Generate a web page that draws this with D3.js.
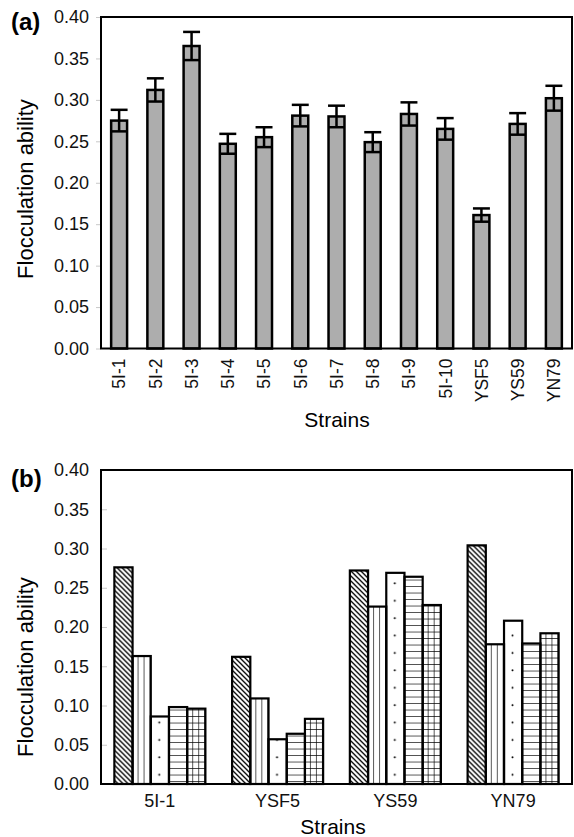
<!DOCTYPE html>
<meta charset="utf-8">
<script src="https://d3js.org/d3.v7.min.js"></script>
<style>
  body { margin: 0; background: #fff; }
  text { font-family: "Liberation Sans", Arial, sans-serif; }
</style>
<div id="chart"></div>
<script>
// ---- data ----
var strains = ["5I-1", "5I-2", "5I-3", "5I-4", "5I-5", "5I-6", "5I-7", "5I-8", "5I-9", "5I-10", "YSF5", "YS59", "YN79"];
var ability = [0.275, 0.312, 0.365, 0.247, 0.255, 0.281, 0.280, 0.249, 0.283, 0.265, 0.161, 0.271, 0.302];
var abilityErr = [0.013, 0.014, 0.017, 0.012, 0.012, 0.013, 0.013, 0.012, 0.014, 0.013, 0.008, 0.013, 0.015];

var groupStrains = ["5I-1", "YSF5", "YS59", "YN79"];
var cond1 = [0.276, 0.162, 0.272, 0.304];
var cond2 = [0.163, 0.109, 0.226, 0.178];
var cond3 = [0.086, 0.057, 0.269, 0.208];
var cond4 = [0.098, 0.064, 0.264, 0.179];
var cond5 = [0.096, 0.083, 0.228, 0.192];
var conds = ["c1", "c2", "c3", "c4", "c5"];

var yTicks = [0, 0.05, 0.10, 0.15, 0.20, 0.25, 0.30, 0.35, 0.40];

var W = 574, H = 837;
var svg = d3.select("#chart").append("svg")
  .attr("width", W)
  .attr("height", H);

var defs = svg.append("defs");

// fill patterns for panel (b)
var p1 = defs.append("pattern").attr("id", "pat-c1")
  .attr("patternUnits", "userSpaceOnUse").attr("width", 5).attr("height", 5);
p1.append("path").attr("d", "M-1,-1 L6,6 M-1,4 L1,6 M4,-1 L6,1")
  .attr("stroke", "#000").attr("stroke-width", 1.3);

var p2 = defs.append("pattern").attr("id", "pat-c2")
  .attr("patternUnits", "userSpaceOnUse").attr("width", 6).attr("height", 6);
p2.append("path").attr("d", "M6,0 V6").attr("stroke", "#000").attr("stroke-width", 1.3);

var p3 = defs.append("pattern").attr("id", "pat-c3")
  .attr("patternUnits", "userSpaceOnUse").attr("width", 30).attr("height", 17.4);
p3.append("circle").attr("cx", 8.5).attr("cy", 9).attr("r", 1).attr("fill", "#000");

var p4 = defs.append("pattern").attr("id", "pat-c4")
  .attr("patternUnits", "userSpaceOnUse").attr("width", 6).attr("height", 6.5);
p4.append("path").attr("d", "M0,6.5 H6").attr("stroke", "#000").attr("stroke-width", 1.3);

var p5 = defs.append("pattern").attr("id", "pat-c5")
  .attr("patternUnits", "userSpaceOnUse").attr("width", 6).attr("height", 6.5);
p5.append("path").attr("d", "M0,6.5 H6 M6,0 V6.5").attr("stroke", "#000").attr("stroke-width", 1.3);

function yAxis(g, y, inner) {
  g.call(d3.axisLeft(y)
      .tickValues(yTicks)
      .tickFormat(d3.format(".2f"))
      .tickSize(inner ? -6 : 5)
      .tickPadding(inner ? 12 : 7))
    .attr("font-size", 18)
    .attr("font-family", null);
  g.select(".domain").remove();
  g.selectAll(".tick line").attr("stroke", "#c8c8c8").attr("stroke-width", 1);
  g.selectAll(".tick text").attr("fill", "#111");
}

// ================= panel (a) =================
var ma = {left: 101, top: 17, right: 572, bottom: 348.5};
var wa = ma.right - ma.left, ha = ma.bottom - ma.top;
var ga = svg.append("g").attr("transform", "translate(" + ma.left + "," + ma.top + ")");

var xa = d3.scaleBand().domain(strains).range([0, wa]).paddingInner(0.56).paddingOuter(0.28);
var ya = d3.scaleLinear().domain([0, 0.40]).range([ha, 0]);

ga.append("g").call(yAxis, ya, false);

var rowsA = strains.map(function(s, i) { return {strain: s, v: ability[i], e: abilityErr[i]}; });

ga.selectAll(".bar").data(rowsA).enter().append("rect")
  .attr("class", "bar")
  .attr("x", function(d) { return xa(d.strain); })
  .attr("y", function(d) { return ya(d.v); })
  .attr("width", xa.bandwidth())
  .attr("height", function(d) { return ha - ya(d.v); })
  .attr("fill", "#adadad")
  .attr("stroke", "#000")
  .attr("stroke-width", 2.5);

// error bars
var eb = ga.selectAll(".err").data(rowsA).enter().append("g").attr("class", "err")
  .attr("transform", function(d) { return "translate(" + (xa(d.strain) + xa.bandwidth() / 2) + ",0)"; })
  .attr("stroke", "#000").attr("stroke-width", 2.5);
eb.append("line")
  .attr("y1", function(d) { return ya(d.v - d.e); })
  .attr("y2", function(d) { return ya(d.v + d.e); });
eb.append("line")
  .attr("x1", -xa.bandwidth() / 2 - 0.5).attr("x2", xa.bandwidth() / 2 + 0.5)
  .attr("y1", function(d) { return ya(d.v + d.e); })
  .attr("y2", function(d) { return ya(d.v + d.e); });
eb.append("line")
  .attr("x1", -xa.bandwidth() / 2).attr("x2", xa.bandwidth() / 2)
  .attr("y1", function(d) { return ya(d.v - d.e); })
  .attr("y2", function(d) { return ya(d.v - d.e); });

// x axis labels (rotated)
var xaG = ga.append("g").attr("transform", "translate(0," + ha + ")")
  .call(d3.axisBottom(xa).tickSize(0))
  .attr("font-size", 17.5)
  .attr("font-family", null);
xaG.select(".domain").remove();
xaG.selectAll(".tick text")
  .attr("fill", "#111")
  .attr("transform", "rotate(-90)")
  .attr("x", -10)
  .attr("y", 0)
  .attr("dy", "0.36em")
  .style("text-anchor", "end");

// frame
ga.append("rect").attr("width", wa).attr("height", ha)
  .attr("fill", "none").attr("stroke", "#000").attr("stroke-width", 2);

svg.append("text").attr("x", 337).attr("y", 427).attr("text-anchor", "middle")
  .style("font-size", "21px").text("Strains");
svg.append("text").attr("transform", "translate(33,189) rotate(-90)").attr("text-anchor", "middle")
  .style("font-size", "22px").text("Flocculation ability");
svg.append("text").attr("x", 11).attr("y", 30)
  .style("font-size", "24px").style("font-weight", "bold").text("(a)");

// ================= panel (b) =================
var mb = {left: 101, top: 470, right: 572, bottom: 784};
var wb = mb.right - mb.left, hb = mb.bottom - mb.top;
var gb = svg.append("g").attr("transform", "translate(" + mb.left + "," + mb.top + ")");

var xb = d3.scaleBand().domain(groupStrains).range([0, wb]).paddingInner(0.227).paddingOuter(0.1135);
var xs = d3.scaleBand().domain(conds).range([0, xb.bandwidth()]);
var yb = d3.scaleLinear().domain([0, 0.40]).range([hb, 0]);

gb.append("g").call(yAxis, yb, true);

var seriesVals = {c1: cond1, c2: cond2, c3: cond3, c4: cond4, c5: cond5};
var rowsB = [];
groupStrains.forEach(function(s, i) {
  conds.forEach(function(c) { rowsB.push({strain: s, cond: c, v: seriesVals[c][i]}); });
});

var bb = gb.selectAll(".bbar").data(rowsB).enter().append("g").attr("class", "bbar")
  .attr("transform", function(d) { return "translate(" + (xb(d.strain) + xs(d.cond)) + ",0)"; });
bb.append("rect")
  .attr("x", 0)
  .attr("y", function(d) { return yb(d.v); })
  .attr("width", xs.bandwidth())
  .attr("height", function(d) { return hb - yb(d.v); })
  .attr("fill", function(d) { return "url(#pat-" + d.cond + ")"; })
  .attr("stroke", "#000")
  .attr("stroke-width", 2.2);

var xbG = gb.append("g").attr("transform", "translate(0," + hb + ")")
  .call(d3.axisBottom(xb).tickSize(0).tickPadding(10))
  .attr("font-size", 18)
  .attr("font-family", null);
xbG.select(".domain").remove();
xbG.selectAll(".tick text").attr("fill", "#111");

gb.append("rect").attr("width", wb).attr("height", hb)
  .attr("fill", "none").attr("stroke", "#000").attr("stroke-width", 2);

svg.append("text").attr("x", 333).attr("y", 834).attr("text-anchor", "middle")
  .style("font-size", "21px").text("Strains");
svg.append("text").attr("transform", "translate(33,667) rotate(-90)").attr("text-anchor", "middle")
  .style("font-size", "22px").text("Flocculation ability");
svg.append("text").attr("x", 11).attr("y", 487)
  .style("font-size", "24px").style("font-weight", "bold").text("(b)");
</script>
